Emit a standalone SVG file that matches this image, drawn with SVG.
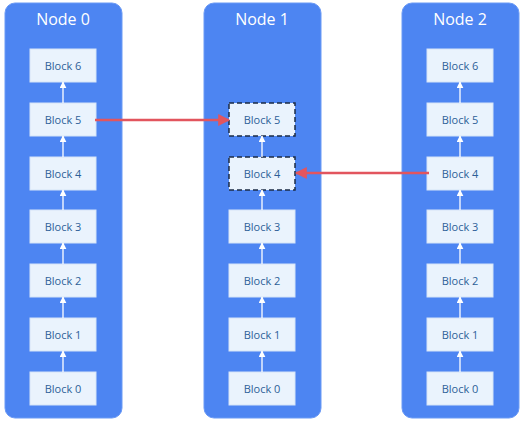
<svg xmlns="http://www.w3.org/2000/svg" width="524" height="425" viewBox="0 0 524 425">
<defs>
<style>
.panel{fill:#4d85f2;stroke:#6b9af5;stroke-width:1}
.title{font-family:"Open Sans","Noto Sans",sans-serif;font-size:16px;fill:#ffffff;text-anchor:middle}
.blk{fill:#eaf3fd;stroke:#d5e4f7;stroke-width:1}
.dash{fill:#eaf3fd;stroke:#1b2b45;stroke-width:1.5;stroke-dasharray:5 3}
.lbl{font-family:"Open Sans","Noto Sans",sans-serif;font-size:11px;fill:#2d5f98;text-anchor:middle}
.up{stroke:#ffffff;stroke-width:1.3;fill:none;marker-end:url(#wa)}
.red{stroke:#e2555e;stroke-width:2.6;fill:none;marker-end:url(#ra)}
</style>
<marker id="wa" viewBox="0 0 10 10" refX="9" refY="5" markerWidth="7" markerHeight="7" markerUnits="userSpaceOnUse" orient="auto"><path d="M0,0 L10,5 L0,10 z" fill="#ffffff"/></marker>
<marker id="ra" viewBox="0 0 10 10" refX="9" refY="5" markerWidth="12" markerHeight="12" markerUnits="userSpaceOnUse" orient="auto"><path d="M0,0 L10,5 L0,10 z" fill="#e2555e"/></marker>
</defs>
<g id="node0">
<rect class="panel" x="5" y="3" width="117" height="415" rx="10"/>
<text class="title" x="63" y="25">Node 0</text>
<rect class="blk" x="30" y="49" width="66" height="33"/><text class="lbl" x="63" y="70">Block 6</text>
<rect class="blk" x="30" y="103" width="66" height="33"/><text class="lbl" x="63" y="124">Block 5</text>
<rect class="blk" x="30" y="157" width="66" height="33"/><text class="lbl" x="63" y="178">Block 4</text>
<rect class="blk" x="30" y="210" width="66" height="33"/><text class="lbl" x="63" y="231">Block 3</text>
<rect class="blk" x="30" y="264" width="66" height="33"/><text class="lbl" x="63" y="285">Block 2</text>
<rect class="blk" x="30" y="318" width="66" height="33"/><text class="lbl" x="63" y="339">Block 1</text>
<rect class="blk" x="30" y="372" width="66" height="33"/><text class="lbl" x="63" y="393">Block 0</text>
</g>
<g id="node1">
<rect class="panel" x="204" y="3" width="117" height="415" rx="10"/>
<text class="title" x="262" y="25">Node 1</text>
<rect class="dash" x="229" y="103" width="66" height="33"/><text class="lbl" x="262" y="124">Block 5</text>
<rect class="dash" x="229" y="157" width="66" height="33"/><text class="lbl" x="262" y="178">Block 4</text>
<rect class="blk" x="229" y="210" width="66" height="33"/><text class="lbl" x="262" y="231">Block 3</text>
<rect class="blk" x="229" y="264" width="66" height="33"/><text class="lbl" x="262" y="285">Block 2</text>
<rect class="blk" x="229" y="318" width="66" height="33"/><text class="lbl" x="262" y="339">Block 1</text>
<rect class="blk" x="229" y="372" width="66" height="33"/><text class="lbl" x="262" y="393">Block 0</text>
</g>
<g id="node2">
<rect class="panel" x="402" y="3" width="117" height="415" rx="10"/>
<text class="title" x="460" y="25">Node 2</text>
<rect class="blk" x="427" y="49" width="66" height="33"/><text class="lbl" x="460" y="70">Block 6</text>
<rect class="blk" x="427" y="103" width="66" height="33"/><text class="lbl" x="460" y="124">Block 5</text>
<rect class="blk" x="427" y="157" width="66" height="33"/><text class="lbl" x="460" y="178">Block 4</text>
<rect class="blk" x="427" y="210" width="66" height="33"/><text class="lbl" x="460" y="231">Block 3</text>
<rect class="blk" x="427" y="264" width="66" height="33"/><text class="lbl" x="460" y="285">Block 2</text>
<rect class="blk" x="427" y="318" width="66" height="33"/><text class="lbl" x="460" y="339">Block 1</text>
<rect class="blk" x="427" y="372" width="66" height="33"/><text class="lbl" x="460" y="393">Block 0</text>
</g>
<g id="connectors">
<path class="up" d="M63,103 V82"/><path class="up" d="M63,157 V136"/><path class="up" d="M63,210 V190"/><path class="up" d="M63,264 V243"/><path class="up" d="M63,318 V297"/><path class="up" d="M63,372 V351"/>
<path class="up" d="M262,157 V136"/><path class="up" d="M262,210 V190"/><path class="up" d="M262,264 V243"/><path class="up" d="M262,318 V297"/><path class="up" d="M262,372 V351"/>
<path class="up" d="M460,103 V82"/><path class="up" d="M460,157 V136"/><path class="up" d="M460,210 V190"/><path class="up" d="M460,264 V243"/><path class="up" d="M460,318 V297"/><path class="up" d="M460,372 V351"/>
<path class="red" d="M95,120 H229"/>
<path class="red" d="M429,173 H296"/>
</g>
</svg>
